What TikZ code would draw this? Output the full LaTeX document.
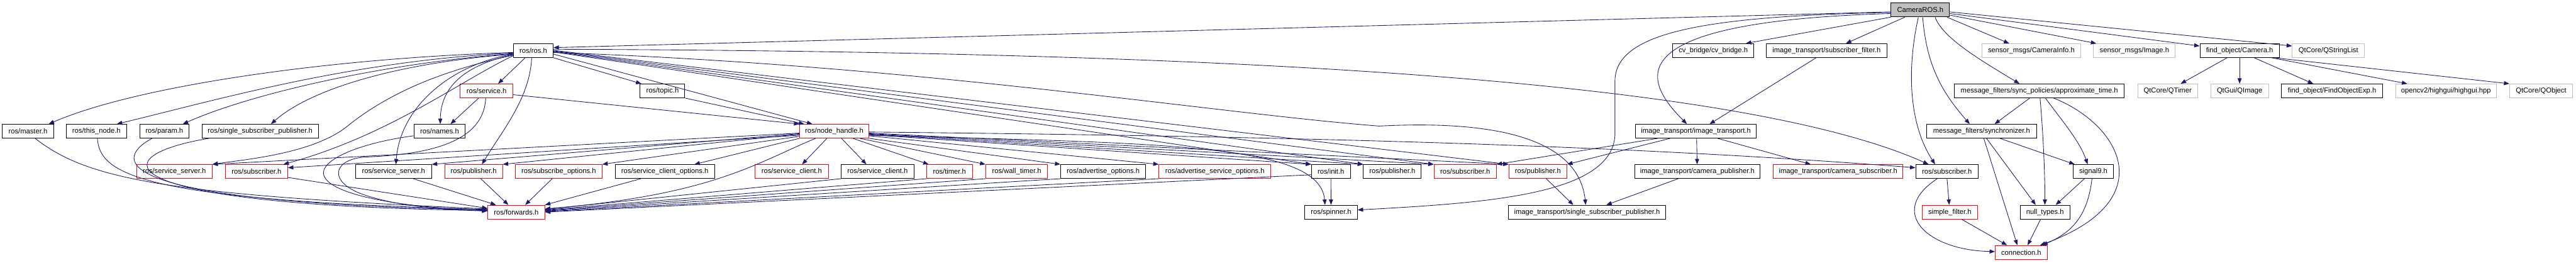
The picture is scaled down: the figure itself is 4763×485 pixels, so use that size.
\documentclass[tikz,border=0pt]{standalone}
\usepackage{fontspec}
\setmainfont{Liberation Sans}
\usetikzlibrary{arrows.meta}
\definecolor{edgeblue}{HTML}{191970}
\definecolor{boxgray}{HTML}{BFBFBF}
\tikzset{
  box/.style={draw=black, fill=white, rectangle, inner sep=0pt, minimum height=19.1pt, line width=0.8pt, font=\fontsize{9.78}{11}\selectfont},
  redbox/.style={box, draw=red},
  graybox/.style={box, draw=boxgray},
  w/.style={minimum width=#1*0.75pt},
  e/.style={draw=edgeblue, line width=0.75pt, -{Triangle[length=7.5pt,width=5.6pt]}},
}
\begin{document}
\begin{tikzpicture}[x=0.75pt,y=-0.75pt]
\useasboundingbox (0,0) rectangle (4763,485);
% row 0
\node[box, fill=boxgray, w=108.3] (cam) at (3550.5,18.5) {CameraROS.h};
% row 1
\node[box, w=73.4] (ros) at (986.1,93.5) {ros/ros.h};
\node[box, w=149.6] (cvb) at (3167.8,93.5) {cv\_bridge/cv\_bridge.h};
\node[box, w=223.1] (isf) at (3377.2,93.5) {image\_transport/subscriber\_filter.h};
\node[graybox, w=182.9] (sci) at (3755.8,93.5) {sensor\_msgs/CameraInfo.h};
\node[graybox, w=151.2] (sim) at (3946.5,93.5) {sensor\_msgs/Image.h};
\node[box, w=146.8] (foc) at (4141,93.5) {find\_object/Camera.h};
\node[graybox, w=133.6] (qsl) at (4305.2,93.5) {QtCore/QStringList};
% row 2
\node[redbox, w=97.2] (service) at (899.6,168) {ros/service.h};
\node[box, w=82.7] (topic) at (1224.9,168) {ros/topic.h};
\node[box, w=314.5] (apx) at (3770.7,168) {message\_filters/sync\_policies/approximate\_time.h};
\node[graybox, w=111] (qtimer) at (4007.9,168) {QtCore/QTimer};
\node[graybox, w=107.1] (qimage) at (4141,168) {QtGui/QImage};
\node[box, w=187.1] (foe) at (4311.9,168) {find\_object/FindObjectExp.h};
\node[graybox, w=186.4] (hgui) at (4522.6,168) {opencv2/highgui/highgui.hpp};
\node[graybox, w=116.3] (qobj) at (4698.4,168) {QtCore/QObject};
% row 3
\node[box, w=94.9] (master) at (51.65,242.5) {ros/master.h};
\node[box, w=111] (thisnode) at (178.3,242.5) {ros/this\_node.h};
\node[box, w=91.1] (param) at (303.85,242.5) {ros/param.h};
\node[box, w=215] (ssp) at (481,242.5) {ros/single\_subscriber\_publisher.h};
\node[box, w=94.9] (names) at (812.75,242.5) {ros/names.h};
\node[redbox, w=127.8] (nh) at (1542.5,242.5) {ros/node\_handle.h};
\node[box, w=223.1] (itr) at (3135.65,242.5) {image\_transport/image\_transport.h};
\node[box, w=202.8] (sync) at (3663.9,242.5) {message\_filters/synchronizer.h};
% row 4
\node[redbox, w=139.7] (ssred) at (322.35,317) {ros/service\_server.h};
\node[redbox, w=115.2] (subredL) at (474.3,317) {ros/subscriber.h};
\node[box, w=140.4] (ssblack) at (727.6,317) {ros/service\_server.h};
\node[redbox, w=106.8] (pubredL) at (875.7,317) {ros/publisher.h};
\node[redbox, w=160.3] (subopt) at (1032.95,317) {ros/subscribe\_options.h};
\node[box, w=184.1] (sco) at (1229.25,317) {ros/service\_client\_options.h};
\node[redbox, w=135.1] (scred) at (1463.85,317) {ros/service\_client.h};
\node[box, w=134.3] (scblack) at (1622.65,317) {ros/service\_client.h};
\node[redbox, w=84.2] (timer) at (1755.6,317) {ros/timer.h};
\node[redbox, w=114.4] (walltimer) at (1879.8,317) {ros/wall\_timer.h};
\node[box, w=157.3] (advopt) at (2039.75,317) {ros/advertise\_options.h};
\node[redbox, w=207] (advsrv) at (2246.4,317) {ros/advertise\_service\_options.h};
\node[box, w=71.9] (init) at (2460.85,317) {ros/init.h};
\node[box, w=106.8] (pubblack) at (2574.3,317) {ros/publisher.h};
\node[redbox, w=115.2] (subredM) at (2709,317) {ros/subscriber.h};
\node[redbox, w=107.2] (pubredM) at (2843.5,317) {ros/publisher.h};
\node[box, w=232.3] (icp) at (3138.35,317) {image\_transport/camera\_publisher.h};
\node[redbox, w=239.9] (ics) at (3398.55,317) {image\_transport/camera\_subscriber.h};
\node[box, w=115.2] (rsub) at (3599.8,317) {ros/subscriber.h};
\node[box, w=75] (sig) at (3870.5,317) {signal9.h};
% row 5
\node[redbox, w=105.2] (fwd) at (954.5,392) {ros/forwards.h};
\node[box, w=97.6] (spinner) at (2461,392) {ros/spinner.h};
\node[box, w=291.2] (issp) at (2934.4,392) {image\_transport/single\_subscriber\_publisher.h};
\node[redbox, w=102.9] (sf) at (3605.15,392) {simple\_filter.h};
\node[box, w=92.2] (nullt) at (3781.2,392) {null\_types.h};
% row 6
\node[redbox, w=96] (conn) at (3737.2,466.5) {connection.h};

% ---- edges from CameraROS.h
\draw[e] (cam.west |- 0,22) -- (ros.east |- 0,88);
\draw[e] (cam.south west) -- (cvb.north -| 3228,0);
\draw[e] (cam.south -| 3522,0) -- (isf.north -| 3413,0);
\draw[e] (cam.west |- 0,25) .. controls (2980,40) and (3040,150) .. (itr.north -| 3119,0);
\draw[e] (cam.west |- 0,23) .. controls (3150,30) and (2986,60) .. (2986,150) -- (2986,250) .. controls (2980,360) and (2750,375) .. (spinner.east |- 0,388);
\draw[e] (cam.south -| 3547,0) .. controls (3525,130) and (3530,230) .. (rsub.north -| 3578,0);
\draw[e] (cam.south -| 3555,0) .. controls (3562,120) and (3590,170) .. (sync.north -| 3642,0);
\draw[e] (cam.south -| 3578,0) .. controls (3592,70) and (3660,110) .. (apx.north -| 3734,0);
\draw[e] (cam.south -| 3600,0) -- (sci.north -| 3715,0);
\draw[e] (cam.east |- 0,28) -- (sim.north -| 3876,0);
\draw[e] (cam.east |- 0,25) -- (foc.west |- 0,85);
\draw[e] (cam.east |- 0,22) -- (qsl.west |- 0,85);

% ---- edges from ros/ros.h
\draw[e] (ros.west |- 0,97) .. controls (600,108) and (250,160) .. (master.north -| 90,0);
\draw[e] (ros.west |- 0,98) .. controls (650,112) and (400,185) .. (thisnode.north -| 216,0);
\draw[e] (ros.west |- 0,99) .. controls (700,118) and (460,175) .. (param.north -| 338,0);
\draw[e] (ros.west |- 0,100) .. controls (750,115) and (580,160) .. (ssp.north -| 501,0);
\draw[e] (ros.west |- 0,102) .. controls (820,130) and (720,170) .. (640,235) .. controls (575,285) and (450,295) .. (ssred.north east);
\draw[e] (ros.west |- 0,103) .. controls (850,150) and (720,250) .. (subredL.north -| 524,0);
\draw[e] (ros.west |- 0,101) .. controls (860,120) and (815,160) .. (names.north -| 814,0);
\draw[e] (ros.south -| 971,0) -- (service.north -| 921,0);
\draw[e] (ros.west |- 0,100) .. controls (830,120) and (740,200) .. (ssblack.north -| 732,0);
\draw[e] (ros.south -| 983,0) .. controls (980,180) and (930,240) .. (pubredL.north -| 891,0);
\draw[e] (ros.south east) -- (topic.north -| 1186,0);
\draw[e] (ros.east |- 0,100) -- (nh.north -| 1502,0);
\draw[e] (ros.east |- 0,96) -- (init.north west);
\draw[e] (ros.east |- 0,95) -- (pubblack.north west);
\draw[e] (ros.east |- 0,94) -- (subredM.north west);
\draw[e] (ros.east |- 0,93) -- (pubredM.north west);
\draw[e] (ros.east |- 0,91) .. controls (2200,95) and (3200,140) .. (rsub.north -| 3566,0);
\draw[e] (ros.east |- 0,97) .. controls (1700,120) and (2250,210) .. (2550,233) .. controls (2800,220) and (2920,270) .. (issp.north -| 2932,0);

% ---- service, topic, names
\draw[e] (service.south -| 885,0) -- (names.north -| 833,0);
\draw[e] (service.south -| 898,0) .. controls (895,260) and (800,285) .. (680,290) .. controls (620,292) and (605,330) .. (660,355) .. controls (720,380) and (820,388) .. (fwd.west |- 0,390);
\draw[e] (service.east |- 0,175) -- (nh.north west);
\draw[e] (topic.south east) -- (nh.north -| 1487,0);
\draw[e] (names.west |- 0,251) .. controls (680,262) and (598,290) .. (598,320) .. controls (600,360) and (750,385) .. (fwd.west |- 0,388);

% ---- into ros/forwards.h
\draw[e] (master.south -| 65,0) .. controls (160,330) and (300,360) .. (fwd.west |- 0,386);
\draw[e] (thisnode.south -| 180,0) .. controls (185,320) and (250,370) .. (fwd.west |- 0,387);
\draw[e] (param.south -| 281,0) .. controls (200,300) and (220,375) .. (fwd.west |- 0,388);
\draw[e] (ssp.south -| 386,0) .. controls (180,290) and (200,380) .. (fwd.west |- 0,389);
\draw[e] (subredL.east |- 0,328) -- (fwd.west |- 0,385);
\draw[e] (ssblack.south -| 764,0) -- (fwd.north -| 917,0);
\draw[e] (pubredL.south -| 889,0) -- (fwd.north -| 940,0);
\draw[e] (subopt.south -| 1021,0) -- (fwd.north -| 971,0);
\draw[e] (sco.south -| 1185,0) -- (fwd.north east);
\draw[e] (nh.south -| 1508,0) .. controls (1400,300) and (1320,360) .. (fwd.east |- 0,386);
\draw[e] (scblack.south west) -- (fwd.east |- 0,387);
\draw[e] (timer.south west) -- (fwd.east |- 0,388);
\draw[e] (walltimer.south west) -- (fwd.east |- 0,389);
\draw[e] (advopt.south west) -- (fwd.east |- 0,390);
\draw[e] (advsrv.south west) -- (fwd.east |- 0,391);
\draw[e] (init.west |- 0,323) -- (fwd.east |- 0,392);

% ---- from ros/node_handle.h
\draw[e] (nh.south west) -- (sco.north -| 1284,0);
\draw[e] (nh.south -| 1529,0) -- (scred.north -| 1483,0);
\draw[e] (nh.south -| 1556,0) -- (scblack.north -| 1602,0);
\draw[e] (nh.south -| 1577,0) -- (timer.north -| 1717,0);
\draw[e] (nh.south -| 1590,0) -- (walltimer.north west);
\draw[e] (nh.south east) -- (advopt.north west);
\draw[e] (nh.east |- 0,251) -- (advsrv.north west);
\draw[e] (nh.east |- 0,249) -- (init.north west);
\draw[e] (nh.east |- 0,248) -- (pubblack.north west);
\draw[e] (nh.east |- 0,247) -- (subredM.north west);
\draw[e] (nh.east |- 0,246) -- (pubredM.north west);
\draw[e] (nh.east |- 0,244) .. controls (2400,252) and (3000,268) .. (rsub.west |- 0,310);
\draw[e] (nh.east |- 0,250) .. controls (2150,265) and (2440,265) .. (spinner.north -| 2450,0);
\draw[e] (nh.west |- 0,246) -- (ssred.north east);
\draw[e] (nh.west |- 0,250) -- (subredL.east |- 0,310);
\draw[e] (nh.west |- 0,247) -- (ssblack.north east);
\draw[e] (nh.west |- 0,248) -- (pubredL.north east);
\draw[e] (nh.west |- 0,252) -- (subopt.north east);

% ---- image_transport
\draw[e] (isf.south -| 3358,0) -- (itr.north -| 3161,0);
\draw[e] (itr.south -| 3137,0) -- (icp.north -| 3138,0);
\draw[e] (itr.south -| 3176,0) -- (ics.north -| 3348,0);
\draw[e] (itr.south -| 3065,0) -- (subredM.north east);
\draw[e] (itr.south -| 3088,0) -- (pubredM.north east);
\draw[e] (icp.south -| 3103,0) -- (issp.north -| 2970,0);
\draw[e] (pubredM.south -| 2859,0) -- (issp.north -| 2909,0);
\draw[e] (init.south) -- (spinner.north -| 2461,0);

% ---- message_filters
\draw[e] (apx.south -| 3753,0) -- (sync.north -| 3688,0);
\draw[e] (apx.south -| 3772,0) .. controls (3778,250) and (3781,320) .. (nullt.north -| 3781,0);
\draw[e] (apx.south -| 3782,0) .. controls (3810,220) and (3845,260) .. (sig.north -| 3860,0);
\draw[e] (apx.south -| 3797,0) .. controls (3920,230) and (4000,370) .. (conn.north -| 3772,0);
\draw[e] (sync.south -| 3698,0) -- (sig.north -| 3836,0);
\draw[e] (sync.south -| 3673,0) -- (nullt.north -| 3764,0);
\draw[e] (sync.south -| 3668,0) -- (conn.north -| 3730,0);
\draw[e] (sig.south -| 3854,0) -- (nullt.north -| 3801,0);
\draw[e] (sig.south -| 3868,0) .. controls (3860,400) and (3830,430) .. (conn.north -| 3776,0);
\draw[e] (nullt.south -| 3773,0) -- (conn.north -| 3749,0);
\draw[e] (sf.south -| 3627,0) -- (conn.north -| 3711,0);
\draw[e] (rsub.south -| 3600,0) -- (sf.north -| 3604,0);
\draw[e] (rsub.south -| 3582,0) .. controls (3490,390) and (3560,462) .. (conn.west |- 0,465);

% ---- find_object
\draw[e] (foc.south -| 4118,0) -- (qtimer.north -| 4032,0);
\draw[e] (foc.south -| 4141,0) -- (qimage.north);
\draw[e] (foc.south -| 4168,0) -- (foe.north -| 4277,0);
\draw[e] (foc.south -| 4200,0) -- (hgui.north -| 4451,0);
\draw[e] (foc.south -| 4205,0) -- (qobj.north west);
\end{tikzpicture}
\end{document}
